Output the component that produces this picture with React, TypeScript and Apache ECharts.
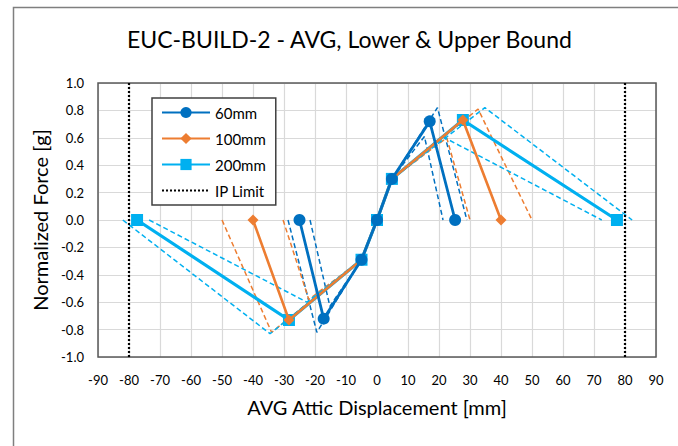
import React, { useEffect, useRef } from "react";
import * as echarts from "echarts";

// ---- data ----
const X_MIN = -90, X_MAX = 90, X_STEP = 10;
const Y_MIN = -1, Y_MAX = 1, Y_STEP = 0.2;
const IP_LIMITS = [-80, 80];

const avg60 = [[-25, 0], [-17.2, -0.72], [-5, -0.29], [0, 0], [4.8, 0.3], [17, 0.72], [25.2, 0]];
const up60 = [[-28.7, 0], [-19.4, -0.82], [-5, -0.29], [0, 0], [4.8, 0.3], [19.5, 0.82], [29, 0]];
const lo60 = [[-21.6, 0], [-15.2, -0.63], [-5, -0.29], [0, 0], [4.8, 0.3], [15.3, 0.61], [21.3, 0]];

const avg100 = [[-40, 0], [-28.4, -0.73], [-5, -0.29], [0, 0], [4.8, 0.3], [27.7, 0.73], [40, 0]];
const up100 = [[-50, 0], [-34, -0.82], [-5, -0.29], [0, 0], [4.8, 0.3], [32.6, 0.81], [50, 0]];
const lo100 = [[-30.3, 0], [-22, -0.58], [-5, -0.29], [0, 0], [4.8, 0.3], [22.5, 0.6], [30, 0]];

const avg200 = [[-77.4, 0], [-28.4, -0.73], [-5, -0.29], [0, 0], [4.8, 0.3], [27.7, 0.73], [77.4, 0]];
const up200 = [[-82, 0], [-34.5, -0.83], [-5, -0.29], [0, 0], [4.8, 0.3], [34.8, 0.82], [82.3, 0]];
const lo200 = [[-73.5, 0], [-22.6, -0.6], [-5, -0.29], [0, 0], [4.8, 0.3], [21, 0.61], [72.5, 0]];

const C60 = "#0070C0";
const C100 = "#ED7D31";
const C200 = "#00B0F0";
const FONT = "Lato";

function dashed(name: string, data: number[][], color: string) {
  return {
    name,
    type: "line",
    data,
    symbol: "none",
    lineStyle: { color, width: 1.5, type: [5, 3] },
    silent: true,
    z: 2,
  };
}

export default function App() {
  const ref = useRef<HTMLDivElement>(null);
  useEffect(() => {
    const chart = echarts.init(ref.current!, null, { renderer: "svg" });
    const option: any = {
      animation: false,
      backgroundColor: "#fff",
      textStyle: { fontFamily: FONT },
      title: {
        text: "EUC-BUILD-2 - AVG, Lower & Upper Bound",
        left: 127,
        top: 27,
        padding: 0,
        textStyle: { fontFamily: FONT, fontSize: 23, fontWeight: "normal", color: "#000" },
      },
      graphic: [
        {
          type: "rect",
          left: 11,
          top: 5,
          shape: { width: 720, height: 500 },
          style: { fill: "none", stroke: "#7F7F7F", lineWidth: 1.5 },
          silent: true,
          z: -10,
        },
      ],
      grid: {
        left: 98,
        right: 22,
        top: 83,
        bottom: 89,
        show: true,
        borderColor: "#595959",
        borderWidth: 1.5,
        backgroundColor: "transparent",
        z: 1,
      },
      legend: {
        orient: "vertical",
        left: 152,
        top: 98,
        data: [
          "60mm",
          "100mm",
          "200mm",
          { name: "IP Limit", itemStyle: { opacity: 0 } },
        ],
        backgroundColor: "#fff",
        borderColor: "#404040",
        borderWidth: 1.5,
        padding: [7, 10, 7, 9],
        itemWidth: 48,
        itemHeight: 14,
        itemGap: 11,
        textStyle: { fontFamily: FONT, fontSize: 15, color: "#000" },
        z: 20,
      },
      xAxis: {
        type: "value",
        min: X_MIN,
        max: X_MAX,
        interval: X_STEP,
        name: "AVG Attic Displacement [mm]",
        nameLocation: "middle",
        nameGap: 40,
        nameTextStyle: { fontFamily: FONT, fontSize: 20, color: "#000" },
        axisLine: { show: false },
        axisTick: { show: false },
        axisLabel: { margin: 16, fontSize: 13, color: "#000", fontFamily: FONT },
        splitLine: { show: true, lineStyle: { color: "#D9D9D9", width: 1.2 } },
      },
      yAxis: {
        type: "value",
        min: Y_MIN,
        max: Y_MAX,
        interval: Y_STEP,
        name: "Normalized Force [g]",
        nameLocation: "middle",
        nameGap: 47,
        nameTextStyle: { fontFamily: FONT, fontSize: 20, color: "#000" },
        axisLine: { show: false },
        axisTick: { show: false },
        axisLabel: {
          margin: 14,
          fontSize: 13,
          color: "#000",
          fontFamily: FONT,
          formatter: (v: number) => v.toFixed(1),
        },
        splitLine: { show: true, lineStyle: { color: "#D9D9D9", width: 1.2 } },
      },
      series: [
        ...IP_LIMITS.map((x) => ({
          name: "IP Limit",
          type: "line",
          data: [[x, Y_MIN], [x, Y_MAX]],
          symbol: "none",
          lineStyle: { color: "#000", width: 2.2, type: [2, 2] },
          itemStyle: { color: "#000" },
          z: 3,
        })),
        dashed("60mm Upper", up60, C60),
        dashed("60mm Lower", lo60, C60),
        dashed("100mm Upper", up100, C100),
        dashed("100mm Lower", lo100, C100),
        dashed("200mm Upper", up200, C200),
        dashed("200mm Lower", lo200, C200),
        {
          name: "200mm",
          type: "line",
          data: avg200,
          symbol: "rect",
          symbolSize: 12,
          lineStyle: { color: C200, width: 3.2 },
          itemStyle: { color: C200 },
          z: 5,
        },
        {
          name: "100mm",
          type: "line",
          data: avg100,
          symbol: "diamond",
          symbolSize: 11,
          lineStyle: { color: C100, width: 2.6 },
          itemStyle: { color: C100 },
          z: 6,
        },
        {
          name: "60mm",
          type: "line",
          data: avg60,
          symbol: "circle",
          symbolSize: 12,
          lineStyle: { color: C60, width: 2.8 },
          itemStyle: { color: C60 },
          z: 7,
        },
      ],
    };
    chart.setOption(option);
    return () => chart.dispose();
  }, []);
  return (
    <div
      ref={ref}
      style={{ position: "fixed", left: 0, top: 0, width: 678, height: 446, background: "#fff" }}
    />
  );
}
